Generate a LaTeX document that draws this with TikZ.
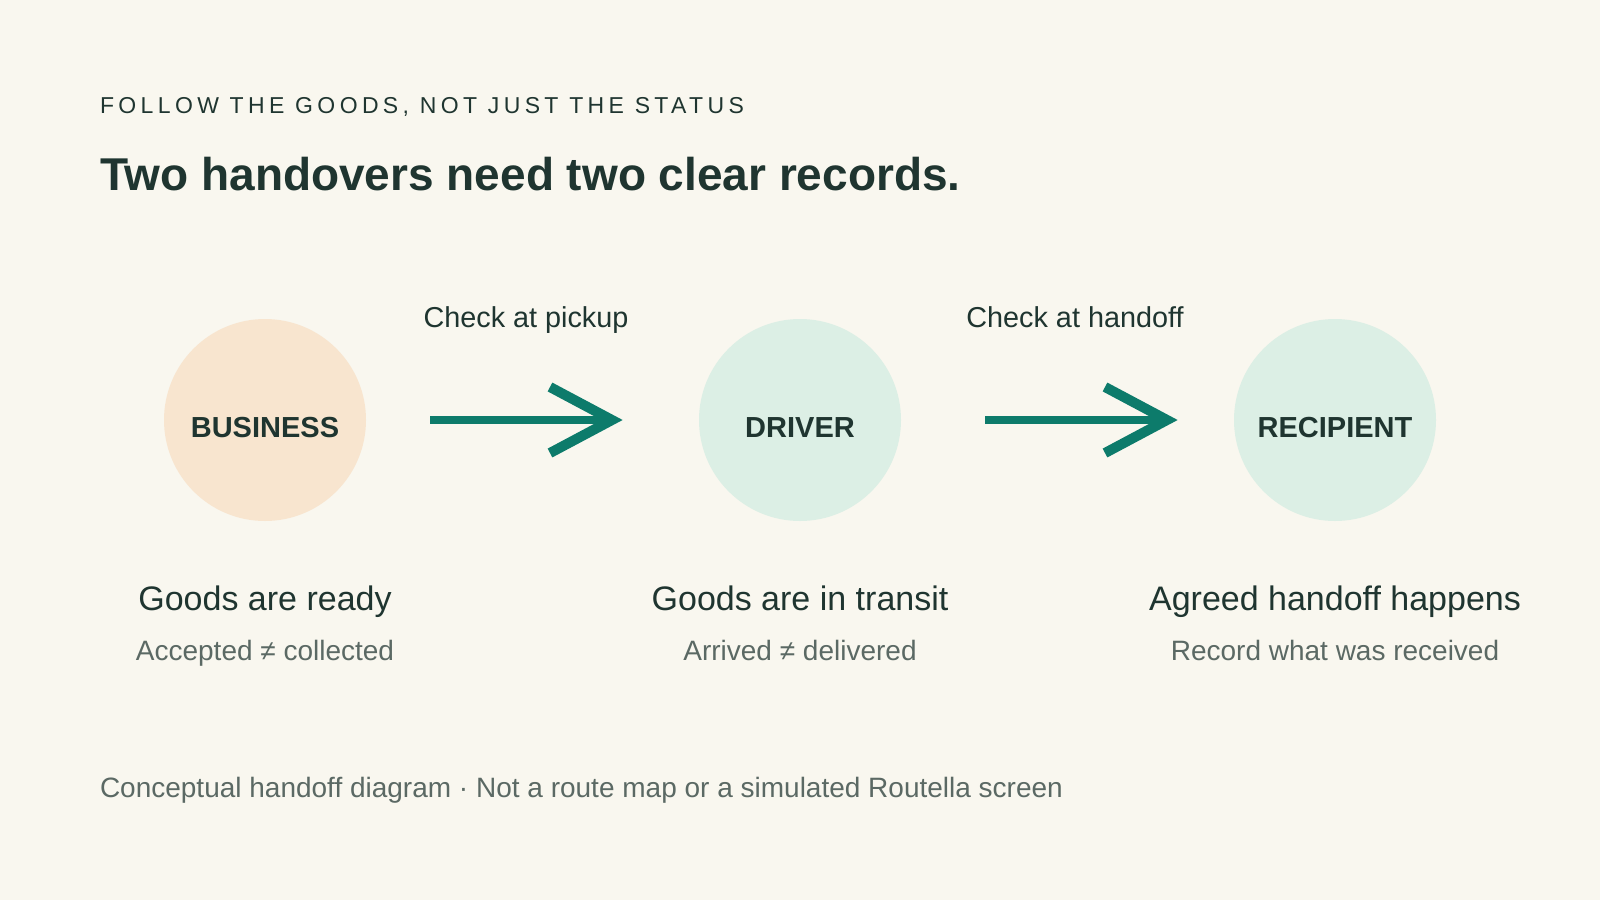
\documentclass[tikz,border=0pt]{standalone}
\usepackage{fontspec}
\setmainfont{Liberation Sans}
\newfontfamily\eyebrowfont[LetterSpace=19]{Liberation Sans}
\definecolor{bgc}{HTML}{F9F7EF}
\definecolor{inkc}{HTML}{1F3530}
\definecolor{grayc}{HTML}{5B6964}
\definecolor{tealc}{HTML}{0D7B6B}
\definecolor{peachc}{HTML}{F8E5CF}
\definecolor{mintc}{HTML}{DCEFE5}
\begin{document}
\begin{tikzpicture}[x=0.5pt,y=-0.5pt,
  txt/.style={inner sep=0pt,outer sep=0pt,text=inkc},
  stage/.style={circle,minimum size=101pt,inner sep=0pt,draw=none},
  stagelabel/.style={txt,anchor=base,font=\fontsize{14.5}{16}\selectfont\bfseries},
  headline/.style={txt,anchor=base,font=\fontsize{17}{20}\selectfont},
  subline/.style={txt,anchor=base,text=grayc,font=\fontsize{14}{16}\selectfont},
  checklabel/.style={txt,anchor=base,font=\fontsize{14.4}{17}\selectfont},
  shaft/.style={draw=tealc,line width=4pt,line cap=butt},
  head/.style={draw=tealc,line width=5pt,line cap=butt,line join=miter}]
\fill[bgc] (0,0) rectangle (1600,900);
\useasboundingbox (0,0) rectangle (1600,900);
% header
\node[txt,anchor=base west,font=\eyebrowfont\fontsize{11.5}{13}\selectfont] (eyebrow) at (100,113) {FOLLOW THE GOODS, NOT JUST THE STATUS};
\node[txt,anchor=base west,font=\fontsize{23}{27}\selectfont\bfseries] (title) at (100,190) {Two handovers need two clear records.};
% circles
\node[stage,fill=peachc] (business) at (265,420) {};
\node[stage,fill=mintc] (driver) at (800,420) {};
\node[stage,fill=mintc] (recipient) at (1335,420) {};
\node[stagelabel] (businessl) at (265,437) {BUSINESS};
\node[stagelabel] (driverl) at (800,437) {DRIVER};
\node[stagelabel] (recipientl) at (1335,437) {RECIPIENT};
% arrows
\coordinate (a1s) at (430,420);
\coordinate (a1e) at (612,420);
\coordinate (a2s) at (985,420);
\coordinate (a2e) at (1167,420);
\draw[shaft] (a1s) -- (a1e);
\draw[head] (a1e) ++(-62,-33) -- (a1e) -- ++(-62,33);
\draw[shaft] (a2s) -- (a2e);
\draw[head] (a2e) ++(-62,-33) -- (a2e) -- ++(-62,33);
\node[checklabel] (check1) at (526,327) {Check at pickup};
\node[checklabel] (check2) at (1075,327) {Check at handoff};
% captions
\node[headline] (h1) at (265,610) {Goods are ready};
\node[headline] (h2) at (800,610) {Goods are in transit};
\node[headline] (h3) at (1335,610) {Agreed handoff happens};
\node[subline] (s1) at (265,660) {Accepted ≠ collected};
\node[subline] (s2) at (800,660) {Arrived ≠ delivered};
\node[subline] (s3) at (1335,660) {Record what was received};
% footer
\node[txt,anchor=base west,text=grayc,font=\fontsize{14}{16}\selectfont] (footer) at (100,797) {Conceptual handoff diagram · Not a route map or a simulated Routella screen};
\end{tikzpicture}
\end{document}
